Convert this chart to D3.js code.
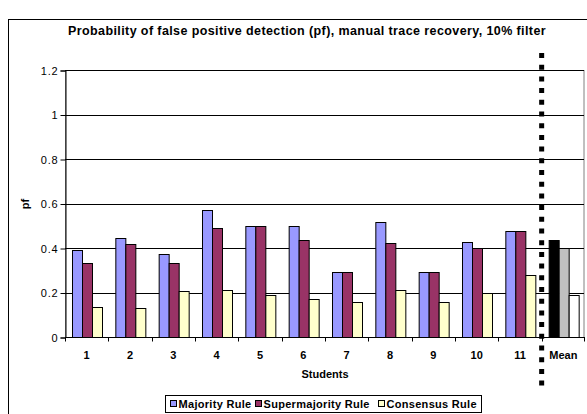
<!DOCTYPE html>
<html>
<head>
<meta charset="utf-8">
<script src="https://cdnjs.cloudflare.com/ajax/libs/d3/7.8.5/d3.min.js"></script>
<style>
  body { margin: 0; background: #fff; }
  svg { font-family: "Liberation Sans", Arial, sans-serif; }
</style>
</head>
<body>
<script>
// Data
var categories = ['1','2','3','4','5','6','7','8','9','10','11','Mean']
var seriesNames = ['Majority Rule','Supermajority Rule','Consensus Rule']
var majority      = [0.39, 0.445, 0.375, 0.57, 0.5, 0.5, 0.293, 0.517, 0.293, 0.426, 0.476, 0.434]
var supermajority = [0.333, 0.42, 0.333, 0.488, 0.5, 0.434, 0.293, 0.421, 0.293, 0.4, 0.476, 0.4]
var consensus     = [0.135, 0.132, 0.207, 0.211, 0.187, 0.171, 0.156, 0.21, 0.156, 0.199, 0.277, 0.187]
var yTicks = [0, 0.2, 0.4, 0.6, 0.8, 1, 1.2]

var colors = ['#9999FF', '#993366', '#FFFFCC']
var meanColors = ['#000000', '#C0C0C0', '#FFFFFF']

var width = 587, height = 414
var margin = {top: 70, right: 3, bottom: 77, left: 65}

var svg = d3.select('body').append('svg')
    .attr('width', width)
    .attr('height', height)

// chart frame (runs past the right and bottom edge)
svg.append('rect')
    .attr('x', 8.5).attr('y', 19.5)
    .attr('width', 640).attr('height', 440)
    .attr('fill', 'none').attr('stroke', '#000')

svg.append('text')
    .attr('x', 307).attr('y', 35)
    .attr('text-anchor', 'middle')
    .attr('font-size', 12.5).attr('font-weight', 'bold')
    .attr('letter-spacing', 0.4)
    .text('Probability of false positive detection (pf), manual trace recovery, 10% filter')

var xScale = d3.scaleBand()
    .domain(categories)
    .range([margin.left, width - margin.right + 1])
    .padding(0)

var xInner = d3.scaleBand()
    .domain(seriesNames)
    .range([0, xScale.bandwidth()])
    .paddingInner(0)
    .paddingOuter(0.667)

var yScale = d3.scaleLinear()
    .domain([0, 1.2])
    .range([height - margin.bottom, margin.top])

var x0 = xScale.range()[0], x1 = xScale.range()[1]

// plot area border
svg.append('rect')
    .attr('x', x0 + 0.5).attr('y', yScale(1.2) + 0.5)
    .attr('width', x1 - x0 - 1.5).attr('height', yScale(0) - yScale(1.2))
    .attr('fill', 'none').attr('stroke', '#808080')

// gridlines
svg.append('g').selectAll('line')
    .data(yTicks.filter(d => d > 0))
    .join('line')
    .attr('x1', x0).attr('x2', x1 - 1)
    .attr('y1', d => Math.round(yScale(d)) + 0.5)
    .attr('y2', d => Math.round(yScale(d)) + 0.5)
    .attr('stroke', '#000')

// bars
var data = categories.map((c, i) => ({cat: c, values: [majority[i], supermajority[i], consensus[i]]}))

var groups = svg.append('g').selectAll('g')
    .data(data)
    .join('g')
    .attr('transform', d => 'translate(' + xScale(d.cat) + ',0)')

groups.selectAll('rect')
    .data(d => d.values.map((v, j) => ({cat: d.cat, name: seriesNames[j], j: j, v: v})))
    .join('rect')
    .attr('x', d => Math.round(xInner(d.name)) + 0.5)
    .attr('y', d => Math.round(yScale(d.v)) + 0.5)
    .attr('width', Math.round(xInner.bandwidth()))
    .attr('height', d => Math.round(yScale(0)) - Math.round(yScale(d.v)))
    .attr('fill', d => d.cat == 'Mean' ? meanColors[d.j] : colors[d.j])
    .attr('stroke', '#000')
    .attr('stroke-width', 1)

// y axis
var yAxis = svg.append('g')
    .attr('transform', 'translate(' + (x0 + 0.5) + ',0.5)')
    .call(d3.axisLeft(yScale).tickValues(yTicks).tickSize(5).tickPadding(2)
        .tickFormat(d => String(+d.toFixed(1))))
yAxis.select('.domain').attr('stroke', '#000')
yAxis.selectAll('text').attr('font-size', 11).attr('fill', '#000')
    .attr('letter-spacing', 0.8)
    .attr('font-family', '"Liberation Sans", Arial, sans-serif')

// x axis line, ticks between categories
var xAxis = svg.append('g')
var base = Math.round(yScale(0)) + 0.5
xAxis.append('line')
    .attr('x1', x0).attr('x2', x1)
    .attr('y1', base).attr('y2', base)
    .attr('stroke', '#000')
xAxis.selectAll('.tk')
    .data(categories.concat(['end']))
    .join('line')
    .attr('class', 'tk')
    .attr('x1', d => Math.round(d == 'end' ? x1 - 1 : xScale(d)) + 0.5)
    .attr('x2', d => Math.round(d == 'end' ? x1 - 1 : xScale(d)) + 0.5)
    .attr('y1', base).attr('y2', base + 4)
    .attr('stroke', '#000')
xAxis.selectAll('text')
    .data(categories)
    .join('text')
    .attr('x', d => xScale(d) + xScale.bandwidth() / 2)
    .attr('y', base + 21)
    .attr('text-anchor', 'middle')
    .attr('font-size', 11).attr('font-weight', 'bold')
    .text(d => d)

// axis titles
svg.append('text')
    .attr('x', (x0 + x1) / 2).attr('y', 378)
    .attr('text-anchor', 'middle')
    .attr('font-size', 11).attr('font-weight', 'bold')
    .text('Students')

svg.append('text')
    .attr('transform', 'translate(29,204) rotate(-90)')
    .attr('text-anchor', 'middle')
    .attr('font-size', 11).attr('font-weight', 'bold')
    .text('pf')

// dotted separator before the mean
svg.append('line')
    .attr('x1', xScale('Mean')).attr('x2', xScale('Mean'))
    .attr('y1', 53).attr('y2', 392)
    .attr('stroke', '#000')
    .attr('stroke-width', 5)
    .attr('stroke-dasharray', '5,6.7')

// legend
var legend = svg.append('g')
svg.append('rect')
    .attr('x', 165.5).attr('y', 395.5)
    .attr('width', 316).attr('height', 17)
    .attr('fill', '#fff').attr('stroke', '#000')
var legX = [170, 255, 378]
var items = legend.selectAll('g')
    .data(seriesNames)
    .join('g')
    .attr('transform', (d, i) => 'translate(' + legX[i] + ',0)')
legend.raise()
items.append('rect')
    .attr('x', 0.5).attr('y', 400.5)
    .attr('width', 6).attr('height', 6)
    .attr('fill', (d, i) => colors[i])
    .attr('stroke', '#000')
items.append('text')
    .attr('x', 8.5).attr('y', 408)
    .attr('font-size', 11).attr('font-weight', 'bold')
    .attr('letter-spacing', 0.3)
    .text(d => d)
</script>
</body>
</html>
